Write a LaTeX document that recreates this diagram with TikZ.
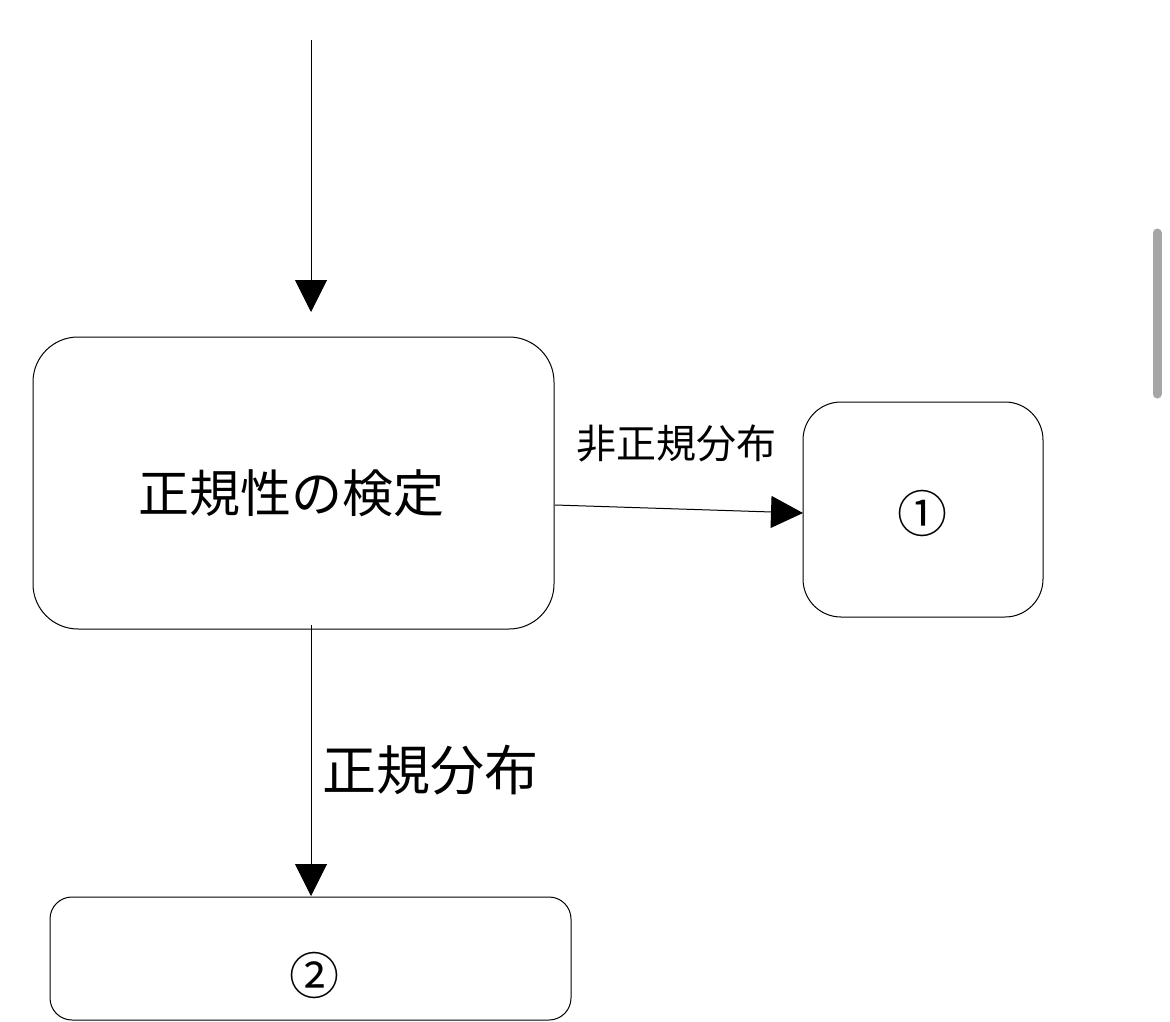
\documentclass[tikz,border=0pt]{standalone}
\usepackage{fontspec}
\newfontfamily\jp{Noto Sans CJK JP}
\usetikzlibrary{arrows.meta}
\begin{document}
\begin{tikzpicture}[x=1pt,y=-1pt,
  box/.style={draw=black,line width=1pt,fill=white,inner sep=0pt},
  conn/.style={draw=black,line width=1pt,-{Triangle[length=32pt,width=32pt]}},
  lbl/.style={font=\jp,text=black,inner sep=0pt}]
\useasboundingbox (0,0) rectangle (1170,1022);
\fill[white] (0,0) rectangle (1170,1022);
% boxes
\node[box,rounded corners=45pt,minimum width=521pt,minimum height=292pt] (main) at (293.5,483) {};
\node[lbl,font=\jp\fontsize{51}{60}\selectfont] (mainT) at (291,493) {正規性の検定};
\node[box,rounded corners=38pt,minimum width=240pt,minimum height=215pt] (one) at (923,509.5) {};
\node[lbl,font=\jp\fontsize{50}{60}\selectfont] (oneT) at (922,513) {①};
\node[box,rounded corners=22pt,minimum width=521pt,minimum height=123pt] (two) at (310.5,958.5) {};
\node[lbl,font=\jp\fontsize{50}{60}\selectfont] (twoT) at (314,975) {②};
% connectors
\coordinate (start) at (311,40);
\coordinate (topin) at (311,312);
\draw[conn] (start) -- (topin);
\coordinate (rs) at (555,505);
\coordinate (re) at (803,513);
\draw[conn] (rs) -- (re);
\coordinate (bs) at (311,625);
\coordinate (be) at (311,896);
\draw[conn] (bs) -- (be);
% labels
\node[lbl,font=\jp\fontsize{40}{48}\selectfont] (nonnorm) at (676,443) {非正規分布};
\node[lbl,font=\jp\fontsize{54}{64}\selectfont] (norm) at (430,770) {正規分布};
% scrollbar
\draw[gray!70,line width=9pt,line cap=round] (1157,233) -- (1157,394);
\end{tikzpicture}
\end{document}
